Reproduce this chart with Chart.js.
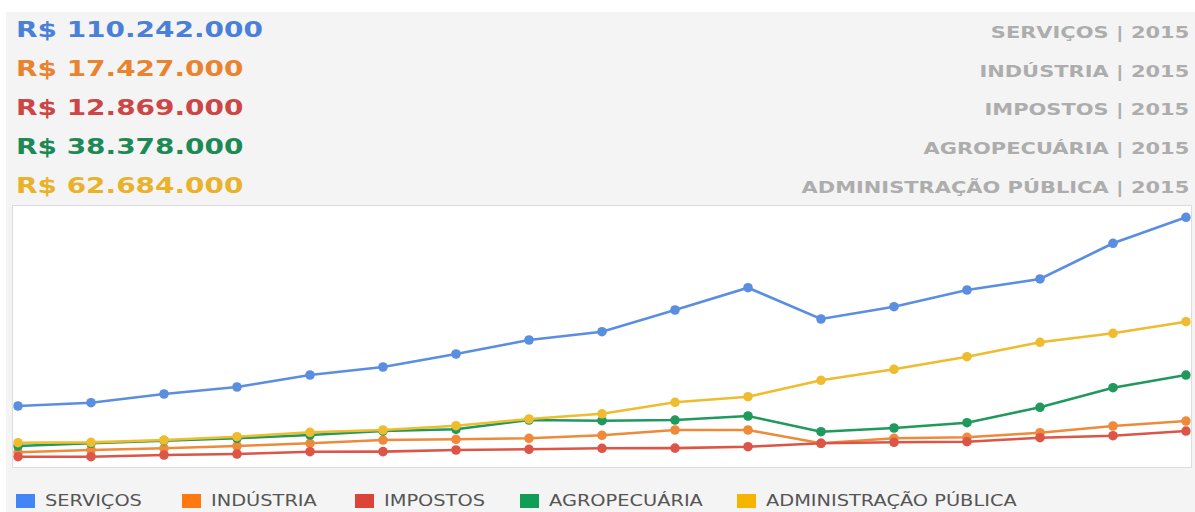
<!DOCTYPE html>
<html>
<head>
<meta charset="utf-8">
<script src="https://cdn.jsdelivr.net/npm/chart.js@4.4.1/dist/chart.umd.min.js"></script>
<style>
  html, body { margin: 0; padding: 0; background: #fff; }
  body { width: 1195px; height: 512px; position: relative; overflow: hidden; font-family: "DejaVu Sans", Verdana, sans-serif; }
  #panel { position: absolute; left: 6px; top: 12px; right: 0; bottom: 0; background: #f4f4f4; }
  .val { position: absolute; left: 16px; font-weight: bold; font-size: 22px; line-height: 24px; transform: scaleX(1.27); transform-origin: left center; white-space: nowrap; }
  .cap { position: absolute; right: 6px; font-weight: bold; font-size: 16.5px; line-height: 20px; color: #adadad; transform: scaleX(1.27); transform-origin: right center; white-space: nowrap; }
  #box { position: absolute; left: 12px; top: 205px; width: 1178px; height: 261px; background: #fff; border: 1px solid #dcdcdc; }
  #pibChart { position: absolute; left: 12px; top: 205px; }
  .leg { position: absolute; top: 493px; height: 16px; }
  .leg i { position: absolute; left: 0; top: 1px; width: 19px; height: 14px; }
  .leg span { position: absolute; left: 29px; top: -1px; font-size: 16px; line-height: 18px; color: #555; transform: scaleX(1.21); transform-origin: left center; white-space: nowrap; }
</style>
</head>
<body>
<div id="panel"></div>
<div id="head"></div>
<div id="box"></div>
<canvas id="pibChart" width="1180" height="262"></canvas>
<div id="legend"></div>
<script>
// valores em R$ mil
const years = ['1999','2000','2001','2002','2003','2004','2005','2006','2007','2008','2009','2010','2011','2012','2013','2014','2015'];
const servicos  = [24280, 25790, 29750, 32940, 38410, 42050, 47980, 54350, 58140, 68020, 78180, 63920, 69530, 77130, 82150, 98410, 110242];
const industria = [3190, 4240, 5010, 6060, 7290, 8790, 9110, 9570, 10930, 13350, 13350, 7290, 9570, 10020, 12120, 15170, 17427];
const impostos  = [1190, 1200, 1960, 2420, 3460, 3500, 4240, 4560, 5010, 5100, 5740, 7290, 7750, 8020, 9840, 10750, 12869];
const agro      = [6060, 7290, 8470, 9570, 11070, 12890, 13670, 17900, 17590, 17900, 19730, 12580, 14260, 16680, 23690, 32620, 38378];
const admPub    = [7560, 7700, 8790, 10300, 12300, 13350, 15310, 18360, 20730, 25970, 28520, 35990, 41000, 46750, 53310, 57410, 62684];

const names  = ['SERVIÇOS', 'INDÚSTRIA', 'IMPOSTOS', 'AGROPECUÁRIA', 'ADMINISTRAÇÃO PÚBLICA'];
const series = [servicos, industria, impostos, agro, admPub];
const lineColors = ['#5a8ee0', '#ee8a3a', '#dc5546', '#1f9a5c', '#eebc2e'];
const textColors = ['#4a80d8', '#ea8330', '#cc4646', '#1d8a55', '#e9b22a'];
const boxColors  = ['#4285f4', '#ff7810', '#db4437', '#0f9d58', '#f4b400'];

function brl(v) {
  return 'R$ ' + String(v * 1000).replace(/\B(?=(\d{3})+(?!\d))/g, '.');
}

// cabeçalho
const head = document.getElementById('head');
const lastYear = years[years.length - 1];
series.forEach((s, i) => {
  const v = document.createElement('div');
  v.className = 'val';
  v.style.top = (18 + i * 39) + 'px';
  v.style.color = textColors[i];
  v.textContent = brl(s[s.length - 1]);
  head.appendChild(v);
  const c = document.createElement('div');
  c.className = 'cap';
  c.style.top = (23 + i * 38.7) + 'px';
  c.textContent = names[i] + ' | ' + lastYear;
  head.appendChild(c);
});

// legenda
const legendX = [16, 182, 355, 520, 737];
const legend = document.getElementById('legend');
names.forEach((n, i) => {
  const d = document.createElement('div');
  d.className = 'leg';
  d.style.left = legendX[i] + 'px';
  d.innerHTML = '<i style="background:' + boxColors[i] + '"></i><span>' + n + '</span>';
  legend.appendChild(d);
});

const ctx = document.getElementById('pibChart').getContext('2d');

const pibChart = new Chart(ctx, {
    type: 'line',
    data: {
        labels: years,
        datasets: series.map((s, i) => ({
            label: names[i],
            data: s,
            borderColor: lineColors[i],
            backgroundColor: lineColors[i],
            pointBackgroundColor: lineColors[i],
            pointBorderColor: lineColors[i],
            pointRadius: 4.8,
            pointBorderWidth: 0,
            borderWidth: 2.6,
            tension: 0,
            fill: false,
            order: 5 - i // última série desenhada por cima
        }))
    },
    options: {
        responsive: false,
        animation: false,
        layout: { autoPadding: false, padding: { left: 6, right: 6, top: 0, bottom: 0 } },
        plugins: {
            legend: { display: false },
            tooltip: { enabled: false }
        },
        scales: {
            x: { display: false },
            y: { display: false, min: -3500, max: 115850 }
        }
    }
});
</script>
</body>
</html>
